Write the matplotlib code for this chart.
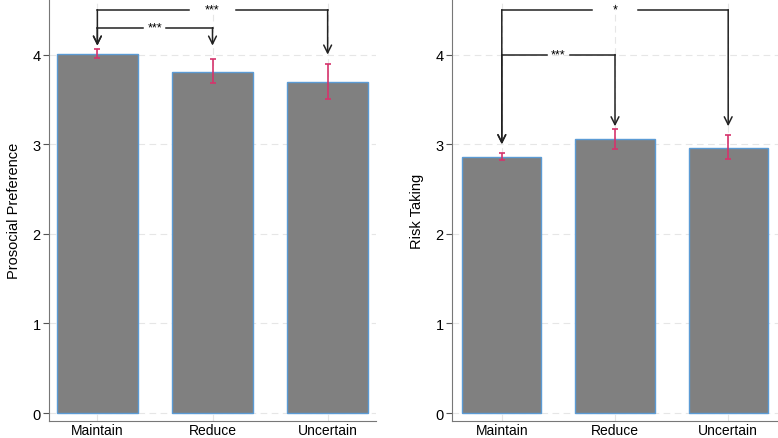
import matplotlib
matplotlib.use("Agg")
import matplotlib.pyplot as plt
import numpy as np

plt.rcParams['font.family'] = ['Liberation Sans', 'DejaVu Sans']

groups = ["Maintain", "Reduce", "Uncertain"]

# left panel: prosocial preference
pro_mean = [4.01, 3.81, 3.69]
pro_lo = [3.96, 3.68, 3.50]
pro_hi = [4.06, 3.95, 3.89]

# right panel: risk taking
risk_mean = [2.86, 3.06, 2.96]
risk_lo = [2.82, 2.95, 2.84]
risk_hi = [2.90, 3.17, 3.10]

# brackets: (from, to, bar height, arrow tip from, arrow tip to, label)
pro_brackets = [(0, 2, 4.50, 4.10, 4.00, "***"),
                (0, 1, 4.30, 4.10, 4.10, "***")]
risk_brackets = [(0, 2, 4.50, 3.00, 3.20, "*"),
                 (0, 1, 4.00, 3.00, 3.20, "***")]

bar_col = "#808080"
edge_col = "#5b9bd5"
err_col = "#d6336c"
line_col = "#222222"


def panel(ax, mean, lo, hi, brackets, ylabel, xlim):
    x = np.arange(len(groups))
    ax.bar(x, mean, width=0.7, color=bar_col, edgecolor=edge_col, linewidth=1.0, zorder=2)
    yerr = [np.array(mean) - np.array(lo), np.array(hi) - np.array(mean)]
    ax.errorbar(x, mean, yerr=yerr, fmt="none", ecolor=err_col, elinewidth=1.2,
                capsize=2.5, capthick=1.2, zorder=3)
    ax.set_xlim(*xlim)
    ax.set_ylim(-0.088, 4.62)
    ax.set_xticks(x)
    ax.set_xticklabels(groups, fontsize=10)
    ax.set_yticks([0, 1, 2, 3, 4])
    ax.tick_params(axis="x", length=0, pad=1.5)
    ax.tick_params(axis="y", length=4, color="#555555", labelsize=10.5, pad=2)
    ax.set_ylabel(ylabel, fontsize=10.5, labelpad=8)
    ax.grid(True, color="#e6e6e6", linestyle=(0, (6, 4)), linewidth=0.8, zorder=0)
    ax.set_axisbelow(True)
    for s in ["top", "right"]:
        ax.spines[s].set_visible(False)
    ax.spines["left"].set_color("#777777")
    ax.spines["bottom"].set_color("#777777")

    for i, j, h, ti, tj, lab in brackets:
        mid = (i + j) / 2
        gap = 0.1 * (j - i)
        ax.plot([i, mid - gap], [h, h], color=line_col, lw=1.1, zorder=4)
        ax.plot([mid + gap, j], [h, h], color=line_col, lw=1.1, zorder=4)
        for xx, tip in [(i, ti), (j, tj)]:
            ax.annotate("", xy=(xx, tip), xytext=(xx, h),
                        arrowprops=dict(arrowstyle="->", color=line_col, lw=1.1,
                                        mutation_scale=14, shrinkA=0, shrinkB=0),
                        zorder=4)
        ax.text(mid, h, lab, ha="center", va="center", fontsize=9, zorder=5)


fig = plt.figure(figsize=(7.78, 4.39), dpi=100)
ax1 = fig.add_axes([49 / 778, 17 / 439, 327 / 778, 422 / 439])
ax2 = fig.add_axes([452 / 778, 17 / 439, 326 / 778, 422 / 439])

panel(ax1, pro_mean, pro_lo, pro_hi, pro_brackets, "Prosocial Preference", (-0.42, 2.42))
panel(ax2, risk_mean, risk_lo, risk_hi, risk_brackets, "Risk Taking", (-0.44, 2.44))

fig.savefig("out.png", dpi=100)
